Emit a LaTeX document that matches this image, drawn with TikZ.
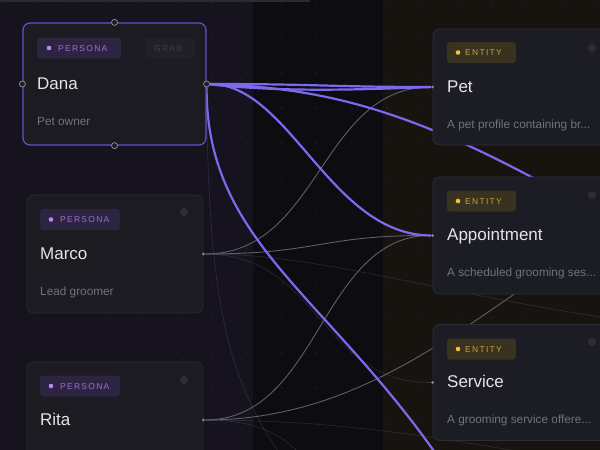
\documentclass[tikz,border=0pt]{standalone}
\usepackage{fontspec}
\setmainfont{Liberation Sans}
\newfontfamily\badgefont[LetterSpace=15]{Liberation Sans}
\definecolor{bgleft}{HTML}{16131F}
\definecolor{bgmid}{HTML}{0C0C11}
\definecolor{bgright}{HTML}{17140F}
\definecolor{cardfill}{HTML}{1C1B22}
\definecolor{cardline}{HTML}{2B2A33}
\definecolor{entfill}{HTML}{1B1C24}
\definecolor{entline}{HTML}{2D2F38}
\definecolor{purp}{HTML}{7B6AEE}
\definecolor{danaline}{HTML}{6252C8}
\definecolor{edgegray}{HTML}{615D6C}
\definecolor{titletxt}{HTML}{E4E4E8}
\definecolor{desctxt}{HTML}{72727E}
\definecolor{perfill}{HTML}{2C2440}
\definecolor{pertxt}{HTML}{9B6FD6}
\definecolor{perdot}{HTML}{C183F5}
\definecolor{entbfill}{HTML}{3A3220}
\definecolor{enttxt}{HTML}{C5A23C}
\definecolor{entdot}{HTML}{F2C230}
\definecolor{grabfill}{HTML}{212027}
\definecolor{grabtxt}{HTML}{3F3E47}
\definecolor{knob}{HTML}{2E2D38}
\definecolor{handlec}{HTML}{8A8894}
\definecolor{gridc}{HTML}{25222D}
\definecolor{topbar}{HTML}{2B2A33}
\pgfdeclarelayer{bgl}
\pgfdeclarelayer{edges}
\pgfsetlayers{bgl,edges,main}
\tikzset{
  card/.style={draw=cardline, line width=0.8pt, fill=cardfill, rounded corners=7pt, inner sep=0pt, minimum width=176pt, minimum height=118pt},
  entcard/.style={draw=entline, line width=0.8pt, fill=entfill, rounded corners=7pt, inner sep=0pt, minimum width=187pt},
  titletext/.style={anchor=base west, text=titletxt, font=\fontsize{17}{20}\selectfont, inner sep=0pt},
  desctext/.style={anchor=base west, text=desctxt, font=\fontsize{11.8}{14}\selectfont, inner sep=0pt},
  badgebox/.style={rounded corners=3pt, inner sep=0pt, minimum height=21pt},
  perbadge/.style={badgebox, fill=perfill, minimum width=80pt},
  entbadge/.style={badgebox, fill=entbfill, minimum width=69pt},
  badgetext/.style={anchor=base west, inner sep=0pt, font=\fontsize{8.5}{10}\badgefont},
  dothandle/.style={circle, draw=handlec, fill=cardfill, line width=0.8pt, minimum size=6pt, inner sep=0pt},
  pinhandle/.style={circle, fill=handlec, minimum size=3pt, inner sep=0pt},
  knobc/.style={circle, fill=knob, minimum size=8pt, inner sep=0pt},
  purpedge/.style={draw=purp, line width=2.2pt},
  grayedge/.style={draw=edgegray, line width=0.9pt},
  faintedge/.style={draw=edgegray, line width=0.6pt, opacity=0.35}
}
\begin{document}
\begin{tikzpicture}[x=1pt,y=-1pt]
\useasboundingbox (0,0) rectangle (600,450);
% backgrounds
\begin{pgfonlayer}{bgl}
\fill[bgleft] (0,0) rectangle (253,450);
\fill[bgmid] (253,0) rectangle (383,450);
\fill[bgright] (383,0) rectangle (600,450);
\fill[topbar] (0,0) rectangle (310,2);
\foreach \x in {2,37,...,597} \foreach \y in {3,38,...,443} \fill[gridc] (\x,\y) circle (0.8);
\end{pgfonlayer}

% persona cards
\node[card, draw=danaline, line width=1.2pt, minimum width=183pt, minimum height=122pt] (dana) at (114.5,84) {};
\node[card] (marco) at (115,254) {};
\node[card, minimum height=116pt] (rita) at (115,420) {};
% entity cards
\node[entcard, minimum height=116pt] (pet) at (526.5,87) {};
\node[entcard, minimum height=117pt] (appt) at (526.5,235.5) {};
\node[entcard, minimum height=116pt] (serv) at (526.5,382.5) {};

% Dana content
\node[perbadge, minimum width=84pt] (danab) at (79,48) {};
\fill[perdot] (49,48) circle (2.3);
\node[badgetext, text=pertxt] (danabt) at (58,51.2) {PERSONA};
\node[badgebox, fill=grabfill, minimum width=49pt] (grab) at (170,48) {};
\node[badgetext, text=grabtxt] (grabt) at (154,51.2) {GRAB};
\node[titletext] (danat) at (37,89) {Dana};
\node[desctext] (danad) at (37,125) {Pet owner};
\node[dothandle] (dhn) at (dana.north) {};
\node[dothandle] (dhs) at (dana.south) {};
\node[dothandle] (dhw) at (dana.west) {};
\node[dothandle] (dhe) at (dana.east) {};

% Marco content
\node[perbadge] (marcob) at (80,219.5) {};
\fill[perdot] (51,219.5) circle (2.3);
\node[badgetext, text=pertxt] (marcobt) at (60,222.7) {PERSONA};
\node[knobc] (marcok) at (184,212) {};
\node[titletext] (marcot) at (40,259) {Marco};
\node[desctext] (marcod) at (40,295) {Lead groomer};
\node[pinhandle] (mhe) at (marco.east) {};

% Rita content
\node[perbadge] (ritab) at (80,386) {};
\fill[perdot] (51,386) circle (2.3);
\node[badgetext, text=pertxt] (ritabt) at (60,389.2) {PERSONA};
\node[knobc] (ritak) at (184,380) {};
\node[titletext] (ritat) at (40,425) {Rita};
\node[pinhandle] (rhe) at (rita.east) {};

% Pet content
\node[entbadge] (petb) at (481.5,52.5) {};
\fill[entdot] (458,52.5) circle (2.3);
\node[badgetext, text=enttxt] (petbt) at (465,55.7) {ENTITY};
\node[knobc] (petk) at (592,48) {};
\node[titletext] (pett) at (447,92) {Pet};
\node[desctext] (petd) at (447,128) {A pet profile containing br...};
\node[pinhandle] (phw) at (pet.west) {};

% Appointment content
\node[entbadge] (apptb) at (481.5,201) {};
\fill[entdot] (458,201) circle (2.3);
\node[badgetext, text=enttxt] (apptbt) at (465,204.2) {ENTITY};
\node[knobc] (apptk) at (592,195) {};
\node[titletext] (apptt) at (447,240) {Appointment};
\node[desctext] (apptd) at (447,276) {A scheduled grooming ses...};
\node[pinhandle] (ahw) at (appt.west) {};

% Service content
\node[entbadge] (servb) at (481.5,349) {};
\fill[entdot] (458,349) circle (2.3);
\node[badgetext, text=enttxt] (servbt) at (465,352.2) {ENTITY};
\node[knobc] (servk) at (592,342) {};
\node[titletext] (servt) at (447,387) {Service};
\node[desctext] (servd) at (447,423) {A grooming service offere...};
\node[pinhandle] (shw) at (serv.west) {};

% off-canvas targets
\coordinate (offa) at (640,240);
\coordinate (offb) at (460,490);
\coordinate (offc) at (520,290);
\coordinate (offd) at (620,320);
\coordinate (offe) at (330,480);
\coordinate (offf) at (600,465);
\coordinate (offg) at (300,480);

\begin{pgfonlayer}{edges}
% faint
\path[faintedge] (mhe) .. controls (320,254) and (420,290) .. (offd);
\path[faintedge] (mhe) .. controls (320,254) and (320,383) .. (shw);
\path[faintedge] (rhe) .. controls (300,420) and (300,470) .. (offe);
\path[faintedge] (rhe) .. controls (350,420) and (450,440) .. (offf);
\path[faintedge] (dhe) .. controls (208,300) and (225,390) .. (offg);
% gray
\path[grayedge] (mhe) .. controls (320,254) and (320,87) .. (phw);
\path[grayedge] (mhe) .. controls (320,254) and (320,235) .. (ahw);
\path[grayedge] (rhe) .. controls (320,420) and (320,235) .. (ahw);
\path[grayedge] (rhe) .. controls (330,420) and (420,360) .. (offc);
% purple
\path[purpedge] (dhe) .. controls (320,84) and (330,87) .. (phw);
\path[purpedge] (dhe) .. controls (290,93) and (370,89) .. (phw);
\path[purpedge] (dhe) .. controls (330,88) and (430,110) .. (offa);
\path[purpedge] (dhe) .. controls (290,84) and (330,235) .. (ahw);
\path[purpedge] (dhe) .. controls (206,250) and (340,300) .. (offb);
\end{pgfonlayer}
\end{tikzpicture}
\end{document}
